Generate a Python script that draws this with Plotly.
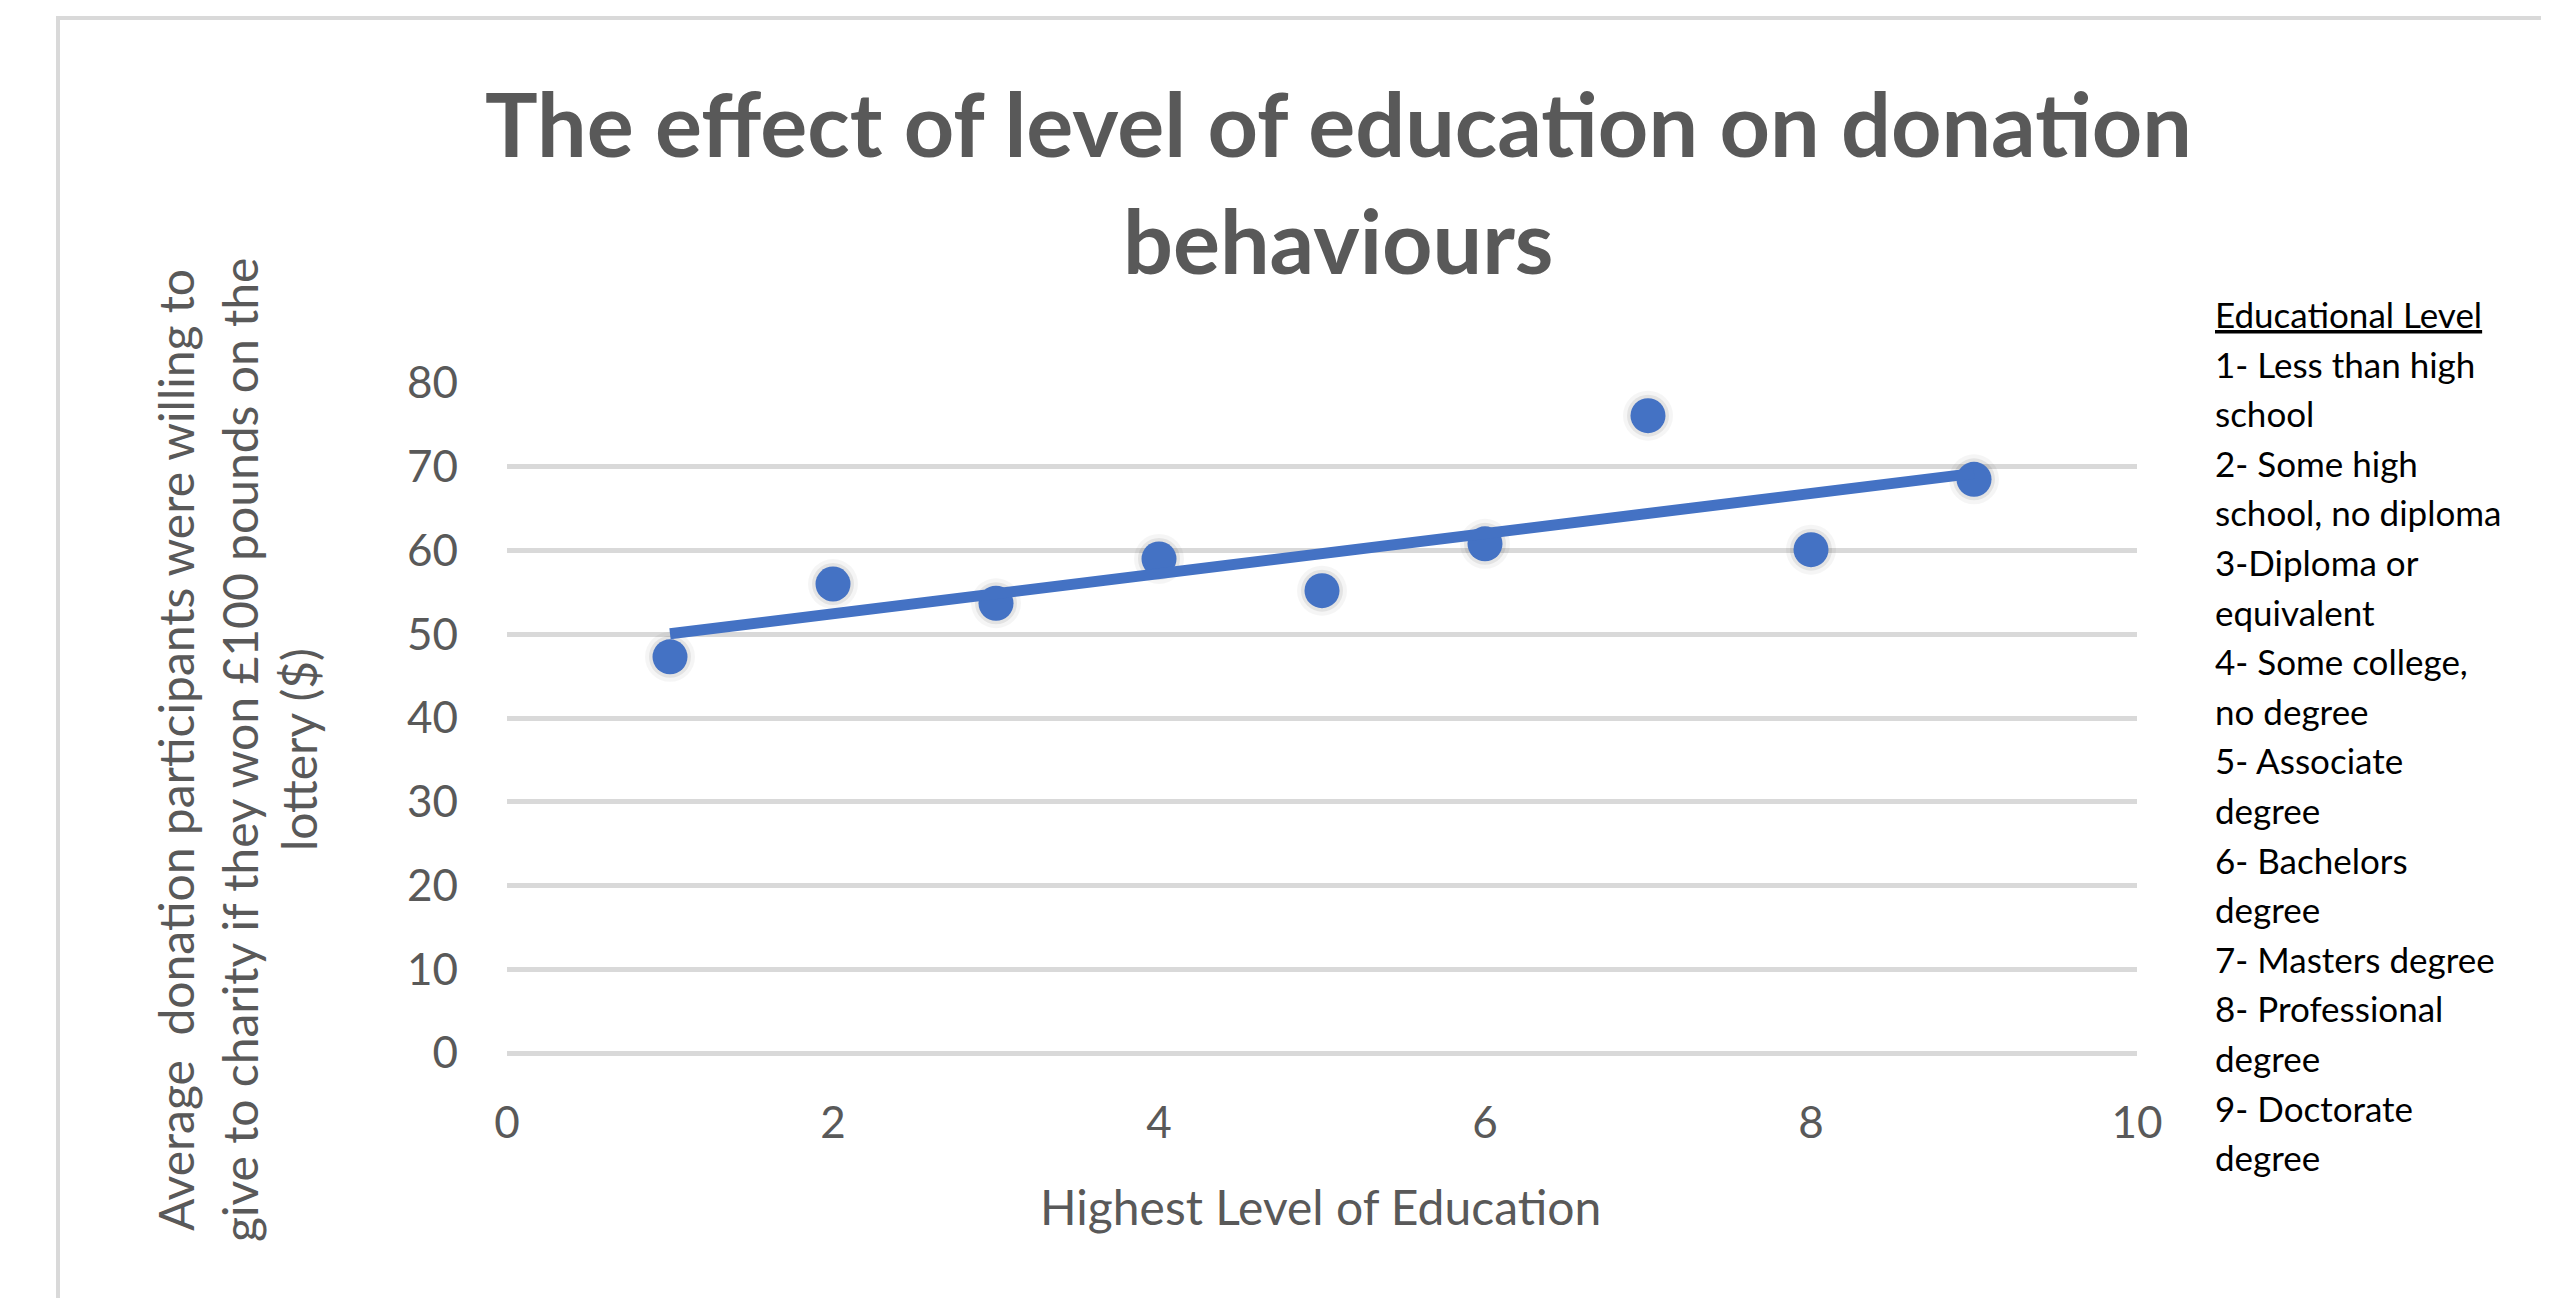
import numpy as np
import plotly.graph_objects as go

# ---- data ----
education_level = [1, 2, 3, 4, 5, 6, 7, 8, 9]
avg_donation = [47.3, 56.0, 53.7, 59.0, 55.2, 60.8, 76.1, 60.1, 68.5]

title_lines = ["The effect of level of education on donation", "behaviours"]
x_title = "Highest Level of Education"
y_title_lines = [
    "Average  donation participants were willing to",
    "give to charity if they won £100 pounds on the",
    "lottery ($)",
]
legend_header = "Educational Level"
legend_lines = [
    "1- Less than high", "school",
    "2- Some high", "school, no diploma",
    "3-Diploma or", "equivalent",
    "4- Some college,", "no degree",
    "5- Associate", "degree",
    "6- Bachelors", "degree",
    "7- Masters degree",
    "8- Professional", "degree",
    "9- Doctorate", "degree",
]
x_ticks = [0, 2, 4, 6, 8, 10]
y_ticks = [0, 10, 20, 30, 40, 50, 60, 70, 80]

# ---- geometry (pixels in the screenshot; page body has an 8px margin) ----
OFF = 8
W, H = 2549 - OFF, 1306 - 2 * OFF
PL, PR, PT, PB = 507, 2137, 383, 1053
FONT = "Lato, Carlito, 'Open Sans', sans-serif"
GREY = "#595959"
BLUE = "#4472C4"


def px(x):
    return (x - PL) / (PR - PL)


def py(y):
    return (PB - y) / (PB - PT)


# trendline from data
slope, intercept = np.polyfit(education_level, avg_donation, 1)
tx = [min(education_level), max(education_level)]
ty = [slope * v + intercept for v in tx]

fig = go.Figure()
# soft shadow
fig.add_trace(go.Scatter(x=education_level, y=avg_donation, mode="markers",
                         marker=dict(size=50, color="rgba(0,0,0,0.04)", line=dict(width=0)),
                         hoverinfo="skip", showlegend=False))
fig.add_trace(go.Scatter(x=education_level, y=avg_donation, mode="markers",
                         marker=dict(size=42, color="rgba(0,0,0,0.07)", line=dict(width=0)),
                         hoverinfo="skip", showlegend=False))
fig.add_trace(go.Scatter(x=education_level, y=avg_donation, mode="markers",
                         marker=dict(size=35, color=BLUE, line=dict(width=0)),
                         showlegend=False))
fig.add_trace(go.Scatter(x=tx, y=ty, mode="lines",
                         line=dict(color=BLUE, width=11), showlegend=False))

annotations = []
# title
title_centers = [123, 240]
for t, yc in zip(title_lines, title_centers):
    annotations.append(dict(text=f"<b>{t}</b>", x=px(1338), y=py(yc), xref="paper", yref="paper",
                            xanchor="center", yanchor="middle", showarrow=False,
                            font=dict(family=FONT, size=88, color=GREY)))
# y-axis title (rotated, three lines)
for t, xc in zip(y_title_lines, [175, 239, 298]):
    annotations.append(dict(text=t, x=px(xc), y=py(750), xref="paper", yref="paper",
                            xanchor="center", yanchor="middle", textangle=-90, showarrow=False,
                            font=dict(family=FONT, size=48, color=GREY)))
# x-axis title
annotations.append(dict(text=x_title, x=px(1320), y=py(1206), xref="paper", yref="paper",
                        xanchor="center", yanchor="middle", showarrow=False,
                        font=dict(family=FONT, size=48, color=GREY)))
# legend text box
step = 49.6
annotations.append(dict(text=f"<u>{legend_header}</u>", x=px(2213), y=py(314), xref="paper", yref="paper",
                        xanchor="left", yanchor="middle", showarrow=False,
                        font=dict(family=FONT, size=35, color="black")))
for i, t in enumerate(legend_lines):
    annotations.append(dict(text=t, x=px(2213), y=py(314 + step * (i + 1)), xref="paper", yref="paper",
                            xanchor="left", yanchor="middle", showarrow=False,
                            font=dict(family=FONT, size=35, color="black")))

fig.update_layout(
    width=W, height=H,
    margin=dict(l=PL - OFF, r=W - (PR - OFF), t=PT - OFF, b=H - (PB - OFF), autoexpand=False),
    paper_bgcolor="white", plot_bgcolor="white",
    font=dict(family=FONT, color=GREY),
    annotations=annotations,
    shapes=[dict(type="rect", xref="paper", yref="paper",
                 x0=px(58), x1=px(2700), y0=py(18), y1=py(1400),
                 line=dict(color="#D9D9D9", width=4), fillcolor="rgba(0,0,0,0)", layer="below")],
    xaxis=dict(range=[0, 10], tickvals=x_ticks, showgrid=False, zeroline=False, showline=False,
               ticks="", tickfont=dict(family=FONT, size=44, color=GREY), ticklabelstandoff=40),
    yaxis=dict(range=[0, 80], tickvals=y_ticks, showgrid=True, gridcolor="#D9D9D9", gridwidth=5,
               zeroline=True, zerolinecolor="#D9D9D9", zerolinewidth=5, showline=False,
               ticks="", tickfont=dict(family=FONT, size=44, color=GREY), ticklabelstandoff=48),
)

fig.write_html("out.html")
